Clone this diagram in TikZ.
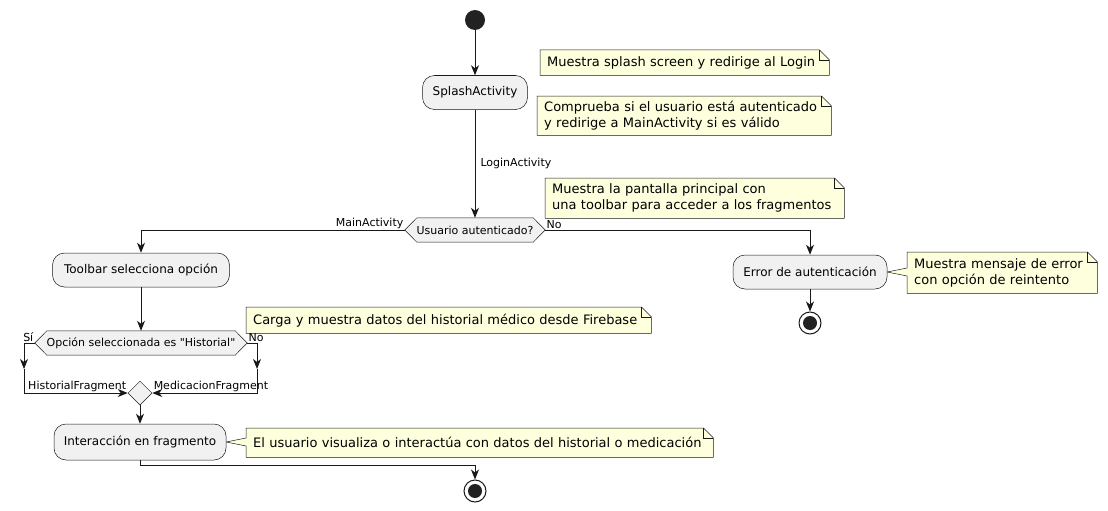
\documentclass[tikz,border=0pt]{standalone}
\usepackage{fontspec}
\setmainfont{DejaVu Sans}[Ligatures=TeXOff]
\usetikzlibrary{arrows.meta,shapes.geometric,backgrounds,calc}
\definecolor{actfill}{HTML}{F1F1F1}
\definecolor{edgec}{HTML}{181818}
\definecolor{notefill}{HTML}{FEFFDD}
\definecolor{dotc}{HTML}{222222}
\tikzset{
 act/.style={draw=edgec, line width=0.5pt, fill=actfill, rounded corners=12pt, minimum height=34pt, inner sep=0pt, font=\fontsize{12}{14}\selectfont},
 hexbox/.style={minimum height=24pt, inner sep=0pt, font=\fontsize{11}{13}\selectfont},
 notebox/.style={anchor=north west, inner xsep=7pt, inner ysep=0pt, align=left, font=\fontsize{13}{16}\selectfont},
 lbl/.style={font=\fontsize{11}{13}\selectfont, inner sep=1pt},
 arr/.style={draw=edgec, line width=1pt, -{Stealth[length=10pt,width=8pt,inset=3pt]}},
 outline/.style={draw=edgec, line width=0.5pt},
 startdot/.style={circle, fill=dotc, minimum size=20pt, inner sep=0pt},
 enddot/.style={circle, draw=edgec, line width=1pt, fill=white, minimum size=22pt, inner sep=0pt},
 mergebox/.style={diamond, aspect=1, draw=edgec, line width=0.5pt, fill=actfill, minimum size=24pt, inner sep=0pt},
}
\newcommand{\drawnote}[1]{%
 \filldraw[outline, fill=notefill] (#1.north west) -- ([xshift=-10pt]#1.north east) -- ([yshift=-10pt]#1.north east) -- (#1.south east) -- (#1.south west) -- cycle;
 \draw[outline] ([xshift=-10pt]#1.north east) |- ([yshift=-10pt]#1.north east);}
\newcommand{\drawwnote}[2]{%
 \filldraw[outline, fill=notefill] (#1.north west) -- ([xshift=-10pt]#1.north east) -- ([yshift=-10pt]#1.north east) -- (#1.south east) -- (#1.south west) -- ($(#1.west |- #2.east)+(0,4)$) -- (#2.east) -- ($(#1.west |- #2.east)+(0,-4)$) -- cycle;
 \draw[outline] ([xshift=-10pt]#1.north east) |- ([yshift=-10pt]#1.north east);}
\newcommand{\drawhex}[1]{%
 \filldraw[outline, fill=actfill] (#1.west) -- ([xshift=12pt]#1.north west) -- ([xshift=-12pt]#1.north east) -- (#1.east) -- ([xshift=-12pt]#1.south east) -- ([xshift=12pt]#1.south west) -- cycle;}
\begin{document}
\begin{tikzpicture}[x=1pt,y=-1pt]
\useasboundingbox (0,0) rectangle (1108,511);
% nodes
\node[startdot] (start) at (475,20) {};
\node[act, minimum width=105pt] (splash) at (475,92.5) {SplashActivity};
\node[hexbox, minimum width=140pt] (hex1) at (475,230) {Usuario autenticado?};
\node[act, minimum width=177pt] (toolbar) at (141,270) {Toolbar selecciona opción};
\node[act, minimum width=154pt] (error) at (810,272) {Error de autenticación};
\node[enddot] (end2) at (810,323) {};
\fill[dotc] (end2) circle (7pt);
\node[hexbox, minimum width=212pt] (hex2) at (141,343) {Opción seleccionada es "Historial"};
\node[mergebox] (merge) at (140,393) {};
\node[act, minimum width=172pt, minimum height=36pt] (inter) at (140,442) {Interacción en fragmento};
\node[enddot] (end1) at (475,491) {};
\fill[dotc] (end1) circle (7pt);
\coordinate (sL) at (24,369);
\coordinate (sR) at (257,369);
% notes
\node[notebox, text width=275pt, minimum height=25pt] (n1) at (540,50) {Muestra splash screen y redirige al Login};
\node[notebox, text width=280pt, minimum height=39pt] (n2) at (537,96) {Comprueba si el usuario está autenticado\\y redirige a MainActivity si es válido};
\node[notebox, text width=285pt, minimum height=40pt] (n3) at (545,178) {Muestra la pantalla principal con\\una toolbar para acceder a los fragmentos};
\node[notebox, text width=176pt, minimum height=41pt] (n4) at (907,252) {Muestra mensaje de error\\con opción de reintento};
\node[notebox, text width=391pt, minimum height=26pt] (n5) at (246,307) {Carga y muestra datos del historial médico desde Firebase};
\node[notebox, text width=453pt, minimum height=29pt] (n6) at (246,428) {El usuario visualiza o interactúa con datos del historial o medicación};
\begin{pgfonlayer}{background}
\drawnote{n1}
\drawnote{n2}
\drawnote{n3}
\drawnote{n5}
\drawwnote{n4}{error}
\drawwnote{n6}{inter}
\drawhex{hex1}
\drawhex{hex2}
\end{pgfonlayer}
% connectors
\draw[arr] (start) -- (splash);
\draw[arr] (splash) -- node[lbl, right=4pt] {LoginActivity} (hex1);
\draw[arr] (hex1.west) -| node[lbl, pos=0, anchor=south east] {MainActivity} (toolbar);
\draw[arr] (hex1.east) -| node[lbl, pos=0, anchor=south west] {No} (error);
\draw[arr] (error) -- (end2);
\draw[arr] (toolbar) -- (hex2);
\draw[arr] (hex2.west) -| node[lbl, pos=0, anchor=south east] {Sí} (sL);
\draw[arr] (hex2.east) -| node[lbl, pos=0, anchor=south west] {No} (sR);
\draw[arr] (sL) |- node[lbl, pos=1, anchor=south east] {HistorialFragment} (merge);
\draw[arr] (sR) |- node[lbl, pos=1, anchor=south west] {MedicacionFragment} (merge);
\draw[arr] (merge) -- (inter);
\draw[arr] (inter.south) -- ++(0,5) -| (end1);
\end{tikzpicture}
\end{document}
